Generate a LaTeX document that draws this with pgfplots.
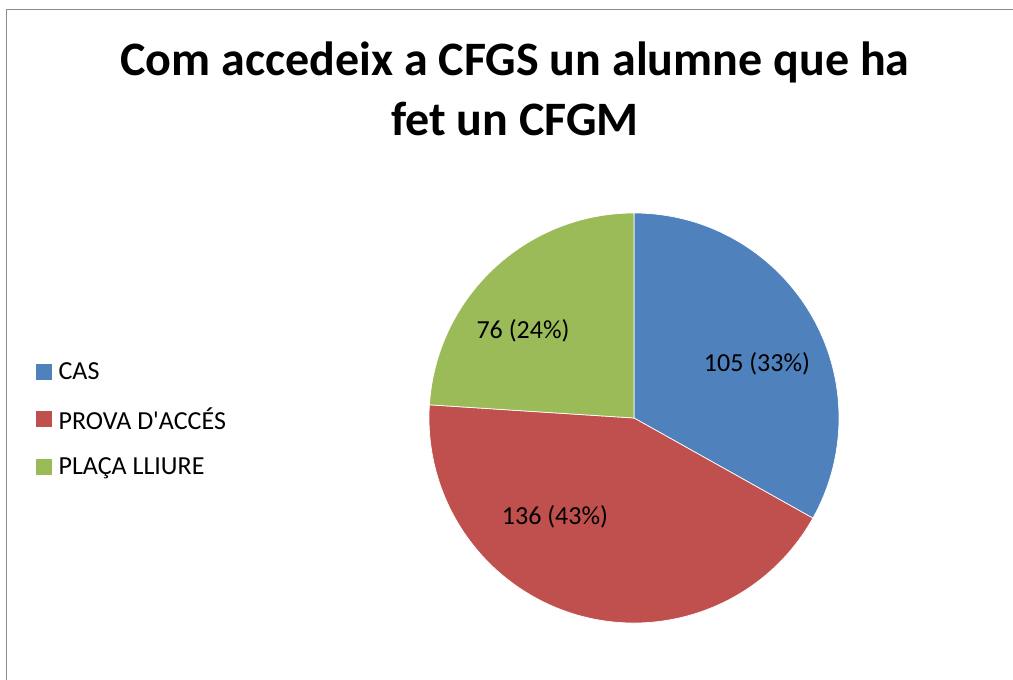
\documentclass[border=0pt]{standalone}
\usepackage{pgfplots}
\pgfplotsset{compat=1.18}
\usepackage{pgfplotstable}
\usepackage{fontspec}
\setmainfont{Carlito}
\definecolor{sblue}{HTML}{4F81BD}
\definecolor{sred}{HTML}{C0504D}
\definecolor{sgreen}{HTML}{9BBB59}
\definecolor{frame}{HTML}{8C8C8C}
\pgfplotstableread{
label value
CAS 105
PROVA 136
PLACA 76
}\piedata
\begin{document}
\begin{tikzpicture}
\pgfplotstablegetelem{0}{value}\of\piedata \let\va\pgfplotsretval
\pgfplotstablegetelem{1}{value}\of\piedata \let\vb\pgfplotsretval
\pgfplotstablegetelem{2}{value}\of\piedata \let\vc\pgfplotsretval
\pgfmathsetmacro\tot{\va+\vb+\vc}
\pgfmathsetmacro\aA{90}
\pgfmathsetmacro\aB{90-360*(\va/\tot)}
\pgfmathsetmacro\aC{\aB-360*(\vb/\tot)}
\pgfmathsetmacro\aD{\aC-360*(\vc/\tot)}
\begin{axis}[
  at={(0,0)}, anchor=south west,
  x=1pt, y=1pt, xmin=0, xmax=1013, ymin=0, ymax=680,
  hide axis, clip=false,
  legend style={draw=none, fill=none, at={(axis cs:36,318)}, anchor=north west,
    font=\fontsize{26}{30}\selectfont, row sep=27pt, inner sep=0pt,
    legend cell align=left, nodes={inner sep=0pt, outer sep=0pt}},
  legend image code/.code={\fill[#1] (0pt,-7.5pt) rectangle (15pt,7.5pt); \path (22pt,0pt);},
]
\addlegendimage{sblue}
\addlegendentry{CAS}
\addlegendimage{sred}
\addlegendentry{PROVA D\textquotesingle ACCÉS}
\addlegendimage{sgreen}
\addlegendentry{PLAÇA LLIURE}
\fill[sblue, draw=white, line width=0.7pt] (axis cs:634,262) -- ([shift={(\aA:205pt)}]axis cs:634,262) arc[start angle=\aA, end angle=\aB, radius=205pt] -- cycle;
\fill[sred, draw=white, line width=0.7pt] (axis cs:634,262) -- ([shift={(\aB:205pt)}]axis cs:634,262) arc[start angle=\aB, end angle=\aC, radius=205pt] -- cycle;
\fill[sgreen, draw=white, line width=0.7pt] (axis cs:634,262) -- ([shift={(\aC:205pt)}]axis cs:634,262) arc[start angle=\aC, end angle=\aD, radius=205pt] -- cycle;
\node[font=\fontsize{26}{30}\selectfont] at (axis cs:757,316) {105 (33\%)};
\node[font=\fontsize{26}{30}\selectfont] at (axis cs:555,163) {136 (43\%)};
\node[font=\fontsize{26}{30}\selectfont] at (axis cs:523,349) {76 (24\%)};
\node[font=\bfseries\fontsize{48}{60}\selectfont, align=center] at (axis cs:515,591) {Com accedeix a CFGS un alumne que ha\\fet un CFGM};
\draw[frame, line width=1.5pt] (axis cs:6.5,0) -- (axis cs:6.5,670.5) -- (axis cs:1013,670.5);
\end{axis}
\pgfresetboundingbox
\path (0,0) rectangle (1013pt,680pt);
\end{tikzpicture}
\end{document}
